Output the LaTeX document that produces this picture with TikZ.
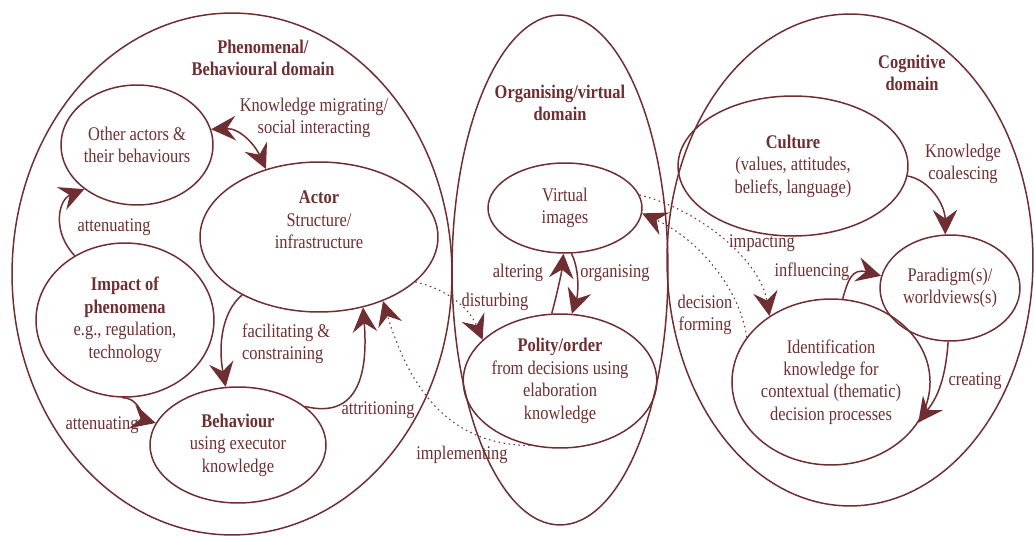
\documentclass[tikz,border=0pt]{standalone}
\usepackage{fontspec}
\setmainfont{Liberation Serif}[FakeStretch=0.85]
\usetikzlibrary{shapes.geometric,arrows.meta}
\definecolor{maroon}{RGB}{110,46,50}

\begin{document}
\begin{tikzpicture}[
    x=0.02cm, y=-0.02cm,
    color=maroon,
    >={Stealth[length=14pt,width=14pt,inset=5pt]},
    every node/.style={font=\fontsize{11}{12.8}\selectfont},
    dom/.style={ellipse, draw, line width=0.85pt, inner sep=0pt},
    blob/.style={ellipse, draw, line width=0.85pt, inner sep=0pt, align=center},
    lbl/.style={align=center, inner sep=1pt},
    arrow/.style={->, line width=0.85pt},
    twoway/.style={<->, line width=0.85pt},
    dotarrow/.style={arrow, dotted, line width=0.6pt}
]
    \useasboundingbox (0,0) rectangle (1034,536);

    % domains
    \node[dom, minimum width=8.8cm, minimum height=10.44cm] (phen) at (232,274) {};
    \node[dom, minimum width=4.32cm, minimum height=10.2cm] (org) at (560,270) {};
    \node[dom, minimum width=7.32cm, minimum height=9.84cm] (cog) at (850,260) {};

    \node[lbl] (phentitle) at (263,58) {\textbf{Phenomenal/}\\\textbf{Behavioural domain}};
    \node[lbl] (orgtitle) at (560,103) {\textbf{Organising/virtual}\\\textbf{domain}};
    \node[lbl] (cogtitle) at (912,73) {\textbf{Cognitive}\\\textbf{domain}};

    % phenomenal/behavioural
    \node[blob, minimum width=3.04cm, minimum height=2.4cm] (others) at (137,145) {Other actors \&\\their behaviours};
    \node[blob, minimum width=4.76cm, minimum height=3cm] (actor) at (319,237) {};
    \node[lbl] (actortxt) at (319,220) {\textbf{Actor}\\Structure/\\infrastructure};
    \node[blob, minimum width=3.56cm, minimum height=3.08cm] (impact) at (125,320) {\textbf{Impact of}\\\textbf{phenomena}\\e.g., regulation,\\technology};
    \node[blob, minimum width=3.52cm, minimum height=2.32cm] (behav) at (238,445) {\textbf{Behaviour}\\using executor\\knowledge};

    % organising/virtual
    \node[blob, minimum width=3.08cm, minimum height=1.8cm] (virtual) at (565,208) {Virtual\\images};
    \node[blob, minimum width=3.32cm, minimum height=2.68cm] (polity) at (560,381) {\textbf{Polity/order}\\from decisions using\\elaboration\\knowledge};

    % cognitive
    \node[blob, minimum width=4.6cm, minimum height=2.8cm] (culture) at (793,166) {\textbf{Culture}\\(values, attitudes,\\beliefs, language)};
    \node[blob, minimum width=2.8cm, minimum height=2.12cm] (paradigm) at (950,288) {Paradigm(s)/\\worldviews(s)};
    \node[blob, minimum width=3.04cm, minimum height=3.32cm] (ident) at (831,382) {Identification\\knowledge for\\contextual (thematic)\\decision processes};

    % connectors
    \draw[twoway] (others.12) .. controls (240,128) and (255,145) .. (actor.128);
    \draw[arrow] (impact.128) .. controls (52,232) and (58,200) .. (others.220);
    \draw[arrow] (actor.217) .. controls (222,312) and (218,345) .. (behav.102);
    \draw[arrow] (behav.30) .. controls (360,420) and (368,370) .. (actor.302);
    \draw[arrow] (impact.268) .. controls (140,398) and (145,420) .. (behav.165);
    \draw[dotarrow] (polity.245) .. controls (450,445) and (410,390) .. (actor.315);
    \draw[dotarrow] (actor.335) .. controls (450,290) and (470,310) .. (polity.152);
    \draw[arrow] (polity.97) .. controls (558,290) and (562,270) .. (virtual.268);
    \draw[arrow] (virtual.278) .. controls (580,270) and (578,295) .. (polity.80);
    \draw[dotarrow] (virtual.10) .. controls (700,210) and (760,260) .. (ident.133);
    \draw[dotarrow] (ident.152) .. controls (740,290) and (700,240) .. (virtual.356);
    \draw[arrow] (ident.82) .. controls (848,280) and (852,268) .. (paradigm.170);
    \draw[arrow] (culture.-5) .. controls (930,180) and (945,205) .. (paradigm.95);
    \draw[arrow] (paradigm.268) .. controls (945,385) and (935,400) .. (ident.335);

    % connector labels
    \node[lbl] (migrating) at (314,118) {Knowledge migrating/\\social interacting};
    \node[lbl] (atten1) at (114,227) {attenuating};
    \node[lbl, align=left, anchor=west] (facil) at (240,344) {facilitating \&\\constraining};
    \node[lbl] (atten2) at (102,425) {attenuating};
    \node[lbl] (attrit) at (378,410) {attritioning};
    \node[lbl] (implem) at (462,455) {implementing};
    \node[lbl] (disturb) at (495,302) {disturbing};
    \node[lbl] (alter) at (518,273) {altering};
    \node[lbl] (organis) at (615,273) {organising};
    \node[lbl] (decform) at (705,315) {decision\\forming};
    \node[lbl] (impactg) at (762,243) {impacting};
    \node[lbl] (influen) at (812,272) {influencing};
    \node[lbl] (coalesc) at (963,164) {Knowledge\\coalescing};
    \node[lbl] (creat) at (975,381) {creating};
\end{tikzpicture}
\end{document}
